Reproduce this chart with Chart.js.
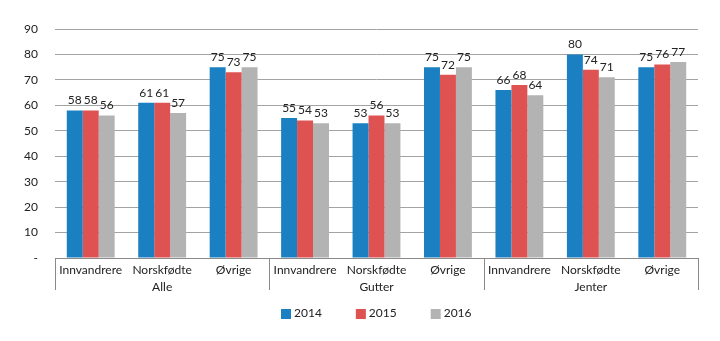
<!DOCTYPE html>
<html>
<head>
<meta charset="utf-8">
<script src="https://cdn.jsdelivr.net/npm/chart.js@4/dist/chart.umd.min.js"></script>
<style>
html,body{margin:0;padding:0;background:#fff;}
#wrap{width:720px;height:341px;position:relative;}
</style>
</head>
<body>
<div id="wrap"><canvas id="c" width="720" height="341"></canvas></div>
<script>
const groups = ['Alle', 'Gutter', 'Jenter'];
const subcategories = ['Innvandrere', 'Norskfødte', 'Øvrige'];
const years = ['2014', '2015', '2016'];
const values2014 = [58, 61, 75, 55, 53, 75, 66, 80, 75];
const values2015 = [58, 61, 73, 54, 56, 72, 68, 74, 76];
const values2016 = [56, 57, 75, 53, 53, 75, 64, 71, 77];
const yTicks = [0, 10, 20, 30, 40, 50, 60, 70, 80, 90];

const colors = ['#1a80c2', '#df5252', '#b3b3b3'];
const FONT = 'Lato, "Open Sans", sans-serif';
const TEXT = '#222';

const labels = [];
groups.forEach(() => subcategories.forEach(s => labels.push(s)));

const dataLabelPlugin = {
  id: 'dataLabels',
  afterDatasetsDraw(chart) {
    const ctx = chart.ctx;
    ctx.save();
    ctx.font = '12px ' + FONT;
    ctx.fillStyle = TEXT;
    ctx.textAlign = 'center';
    ctx.textBaseline = 'bottom';
    chart.data.datasets.forEach((ds, i) => {
      const meta = chart.getDatasetMeta(i);
      meta.data.forEach((el, j) => {
        ctx.fillText(String(ds.data[j]), el.x, el.y - 4);
      });
    });
    ctx.restore();
  }
};

const separatorPlugin = {
  id: 'separators',
  afterDraw(chart) {
    const x = chart.scales.x;
    const ctx = chart.ctx;
    const n = labels.length;
    const step = (x.right - x.left) / n;
    const top = chart.chartArea.bottom;
    const bottom = top + 32;
    ctx.save();
    ctx.strokeStyle = '#8a8a8a';
    ctx.lineWidth = 1;
    for (let g = 0; g <= groups.length; g++) {
      const px = Math.round(x.left + g * subcategories.length * step) + 0.5;
      ctx.beginPath();
      ctx.moveTo(px, top);
      ctx.lineTo(px, bottom);
      ctx.stroke();
    }
    ctx.restore();
  }
};

const legendPlugin = {
  id: 'customLegend',
  afterDraw(chart) {
    const ctx = chart.ctx;
    const area = chart.chartArea;
    ctx.save();
    ctx.font = '12px ' + FONT;
    ctx.textBaseline = 'middle';
    ctx.textAlign = 'left';
    const box = 10, gap = 3, between = 34;
    const items = chart.data.datasets.map(ds => ({ text: ds.label, color: ds.backgroundColor, w: box + gap + ctx.measureText(ds.label).width }));
    const total = items.reduce((a, it) => a + it.w, 0) + between * (items.length - 1);
    let x = Math.round((area.left + area.right) / 2 - total / 2);
    const cy = 313.5;
    items.forEach(it => {
      ctx.fillStyle = it.color;
      ctx.fillRect(x, Math.round(cy - box / 2), box, box);
      ctx.fillStyle = TEXT;
      ctx.fillText(it.text, x + box + gap, cy);
      x += it.w + between;
    });
    ctx.restore();
  }
};

new Chart(document.getElementById('c'), {
  type: 'bar',
  data: {
    labels: labels,
    datasets: years.map((y, i) => ({
      label: y,
      data: [values2014, values2015, values2016][i],
      backgroundColor: colors[i],
      borderWidth: 0,
      categoryPercentage: 0.67,
      barPercentage: 1.0
    }))
  },
  options: {
    responsive: false,
    animation: false,
    devicePixelRatio: 1,
    layout: { padding: { top: 29, right: 22, left: 0, bottom: 44 } },
    plugins: {
      legend: { display: false },
      tooltip: { enabled: false }
    },
    scales: {
      x: {
        type: 'category',
        grid: { display: false, drawTicks: false },
        border: { display: true, color: '#8a8a8a' },
        ticks: { color: TEXT, font: { size: 12, family: FONT }, padding: 5, maxRotation: 0, autoSkip: false },
        afterFit(s) { s.height = 21; }
      },
      group: {
        type: 'category',
        position: 'bottom',
        labels: groups,
        offset: true,
        grid: { display: false, drawTicks: false },
        border: { display: false },
        ticks: { color: TEXT, font: { size: 12, family: FONT }, padding: 1, maxRotation: 0 },
        afterFit(s) { s.height = 18; }
      },
      y: {
        min: 0, max: 90,
        afterBuildTicks(s) { s.ticks = yTicks.map(v => ({ value: v })); },
        grid: { color: ctx => ctx.tick && ctx.tick.value === 0 ? 'rgba(0,0,0,0)' : '#a3a3a3', drawTicks: false },
        border: { display: false },
        ticks: {
          color: TEXT, font: { size: 12, family: FONT }, padding: 17,
          callback: v => v === 0 ? '-' : String(v)
        },
        afterFit(s) { s.width = 55; }
      }
    }
  },
  plugins: [dataLabelPlugin, separatorPlugin, legendPlugin]
});
</script>
</body>
</html>
